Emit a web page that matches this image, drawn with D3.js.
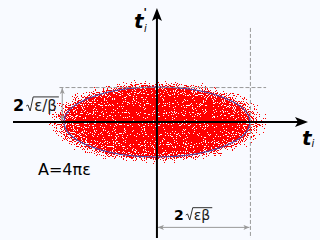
<!DOCTYPE html>
<html>
<head>
<meta charset="utf-8">
<script src="https://cdn.jsdelivr.net/npm/d3@7"></script>
<style>
  html, body { margin: 0; padding: 0; background: #f8faff; }
  svg { display: block; font-family: "DejaVu Sans", sans-serif; }
</style>
</head>
<body>
<svg></svg>
<script>
// canvas
const width = 320;
const height = 240;

// phase space ranges (axis t_i and t'_i)
const rangeT = [-5.05, 5.3];
const rangeTp = [-4.07, 4.0];

// beam parameters
const emittance = [1.0];   // ε
const betaFn = [2.66];     // β

// density profile of the particle cloud: radius (in ellipse units) -> fill level
const cloudRadius = [0, 0.5, 0.8, 0.95, 1.0, 1.07, 1.15, 1.22];
const cloudLevel = [0.81, 0.79, 0.75, 0.67, 0.58, 0.4, 0.2, 0];

const eps = emittance[0];
const beta = betaFn[0];
const halfT = 2 * Math.sqrt(eps * beta);   // 2√(εβ)
const halfTp = 2 * Math.sqrt(eps / beta);  // 2√(ε/β)

const x = d3.scaleLinear().domain(rangeT).range([13, 308]);
const y = d3.scaleLinear().domain(rangeTp).range([238, 8]);

const svg = d3.select("svg")
  .attr("width", width)
  .attr("height", height);

const defs = svg.append("defs");

// radial density gradient
const outer = cloudRadius[cloudRadius.length - 1];
const grad = defs.append("radialGradient")
  .attr("id", "density")
  .attr("cx", "50%").attr("cy", "50%").attr("r", "50%");
grad.selectAll("stop")
  .data(cloudRadius)
  .enter()
  .append("stop")
  .attr("offset", d => d / outer)
  .attr("stop-color", "#ff0000")
  .attr("stop-opacity", (d, i) => cloudLevel[i]);

// speckle filter: noise + density, thresholded, clipped to the cloud
const filter = defs.append("filter")
  .attr("id", "speckle")
  .attr("filterUnits", "userSpaceOnUse")
  .attr("x", 0).attr("y", 0).attr("width", width).attr("height", height)
  .attr("color-interpolation-filters", "sRGB");
filter.append("feTurbulence")
  .attr("type", "fractalNoise")
  .attr("baseFrequency", 0.9)
  .attr("numOctaves", 1)
  .attr("seed", 7)
  .attr("result", "noise");
filter.append("feColorMatrix")
  .attr("in", "noise")
  .attr("type", "matrix")
  .attr("values", "0 0 0 0 0  0 0 0 0 0  0 0 0 0 0  1 0 0 0 0")
  .attr("result", "nA");
filter.append("feColorMatrix")
  .attr("in", "SourceGraphic")
  .attr("type", "matrix")
  .attr("values", "0 0 0 0 0  0 0 0 0 0  0 0 0 0 0  0 0 0 1 0")
  .attr("result", "gA");
filter.append("feComposite")
  .attr("in", "gA").attr("in2", "nA")
  .attr("operator", "arithmetic")
  .attr("k1", 0).attr("k2", 1).attr("k3", 2).attr("k4", -1)
  .attr("result", "sum");
filter.append("feComponentTransfer")
  .attr("in", "sum")
  .attr("result", "mask")
  .append("feFuncA")
  .attr("type", "discrete")
  .attr("tableValues", "0 1");
filter.append("feComponentTransfer")
  .attr("in", "SourceAlpha")
  .attr("result", "inside")
  .append("feFuncA")
  .attr("type", "linear")
  .attr("slope", 200)
  .attr("intercept", -0.5);
filter.append("feComposite")
  .attr("in", "mask").attr("in2", "inside")
  .attr("operator", "in")
  .attr("result", "mask2");
filter.append("feFlood")
  .attr("flood-color", "#ff0000")
  .attr("result", "red");
filter.append("feComposite")
  .attr("in", "red").attr("in2", "mask2")
  .attr("operator", "in");

// markers
function marker(id, color, path, w, h, refX) {
  defs.append("marker")
    .attr("id", id)
    .attr("viewBox", `0 0 ${w} ${h}`)
    .attr("refX", refX).attr("refY", h / 2)
    .attr("markerWidth", w).attr("markerHeight", h)
    .attr("markerUnits", "userSpaceOnUse")
    .attr("orient", "auto-start-reverse")
    .append("path")
    .attr("d", path)
    .attr("fill", color);
}
marker("dim", "#999", "M0,0 L6,2.5 L0,5 L1.5,2.5 Z", 6, 5, 6);

const cx = x(0), cy = y(0);
const rx = x(halfT) - cx;
const ry = cy - y(halfTp);

// particle cloud
svg.append("ellipse")
  .attr("cx", cx).attr("cy", cy)
  .attr("rx", rx * outer).attr("ry", ry * outer)
  .attr("fill", "url(#density)")
  .attr("filter", "url(#speckle)");

// rms ellipse
svg.append("ellipse")
  .attr("cx", cx).attr("cy", cy)
  .attr("rx", rx).attr("ry", ry)
  .attr("fill", "none")
  .attr("stroke", "#4646a8")
  .attr("stroke-width", 1.1);

// dashed guides
const dashed = svg.append("g")
  .attr("stroke", "#999")
  .attr("stroke-width", 1)
  .attr("stroke-dasharray", "4,2")
  .attr("fill", "none");
dashed.append("line")
  .attr("x1", x(halfT) + 0.5).attr("x2", x(halfT) + 0.5)
  .attr("y1", y(3.3)).attr("y2", y(rangeTp[0]));
dashed.append("line")
  .attr("x1", x(-3.42)).attr("x2", x(3.83))
  .attr("y1", y(halfTp) + 0.5).attr("y2", y(halfTp) + 0.5);

// dimension arrows
const dims = svg.append("g")
  .attr("stroke", "#999")
  .attr("stroke-width", 1)
  .attr("marker-start", "url(#dim)")
  .attr("marker-end", "url(#dim)");
dims.append("line")
  .attr("x1", x(-3.34) + 0.5).attr("x2", x(-3.34) + 0.5)
  .attr("y1", y(halfTp) + 1).attr("y2", y(0) - 1);
dims.append("line")
  .attr("x1", x(0) + 1).attr("x2", x(halfT) - 0.5)
  .attr("y1", y(-3.68) + 0.5).attr("y2", y(-3.68) + 0.5);

// axes
const axes = svg.append("g");
axes.append("line")
  .attr("x1", x(rangeT[0])).attr("x2", x(rangeT[1]) - 8)
  .attr("y1", cy).attr("y2", cy)
  .attr("stroke", "#000").attr("stroke-width", 2);
axes.append("path")
  .attr("d", `M${x(rangeT[1])},${cy} L${x(rangeT[1]) - 13},${cy - 5} L${x(rangeT[1]) - 10},${cy} L${x(rangeT[1]) - 13},${cy + 5} Z`)
  .attr("fill", "#000");
axes.append("line")
  .attr("x1", cx).attr("x2", cx)
  .attr("y1", y(rangeTp[0])).attr("y2", y(rangeTp[1]) + 8)
  .attr("stroke", "#000").attr("stroke-width", 2);
axes.append("path")
  .attr("d", `M${cx},${y(rangeTp[1])} L${cx - 5},${y(rangeTp[1]) + 13} L${cx},${y(rangeTp[1]) + 10} L${cx + 5},${y(rangeTp[1]) + 13} Z`)
  .attr("fill", "#000");

// axis labels
const tl = svg.append("text")
  .attr("x", 302).attr("y", 145)
  .attr("font-size", 20).attr("font-weight", "bold").attr("font-style", "italic");
tl.append("tspan").text("t");
tl.append("tspan").attr("font-size", 10).attr("font-weight", "normal").attr("dy", 2).text("i");

const tpl = svg.append("text")
  .attr("x", 134).attr("y", 28)
  .attr("font-size", 20).attr("font-weight", "bold").attr("font-style", "italic");
tpl.append("tspan").text("t");
tpl.append("tspan").attr("font-size", 11).attr("font-weight", "bold").attr("dx", 0).attr("dy", -12).text("'");
tpl.append("tspan").attr("font-size", 10).attr("font-weight", "normal").attr("dx", -3).attr("dy", 16).text("i");

// square root labels
function rootLabel(px, py, size, inner, innerSize) {
  const g = svg.append("g");
  const two = g.append("text")
    .attr("x", px).attr("y", py)
    .attr("font-size", size).attr("font-weight", "bold")
    .attr("fill", "#000")
    .text("2");
  const tw = two.node().getComputedTextLength();
  const rx0 = px + tw + 2;
  const txt = g.append("text")
    .attr("x", rx0 + 8).attr("y", py)
    .attr("font-size", innerSize)
    .attr("fill", "#222")
    .text(inner);
  const w = txt.node().getComputedTextLength();
  const top = py - size * 0.88;
  g.append("path")
    .attr("d", `M${rx0},${py - 5} L${rx0 + 1.8},${py - 6} L${rx0 + 4},${py} L${rx0 + 7},${top} L${rx0 + 10 + w},${top}`)
    .attr("fill", "none")
    .attr("stroke", "#333")
    .attr("stroke-width", 1);
}
rootLabel(13, 111, 16, "ε/β", 15);
rootLabel(174, 220, 14, "εβ", 14);

// area label
svg.append("text")
  .attr("x", 38).attr("y", 175)
  .attr("font-size", 16)
  .attr("fill", "#000")
  .text("A=4πε");
</script>
</body>
</html>
